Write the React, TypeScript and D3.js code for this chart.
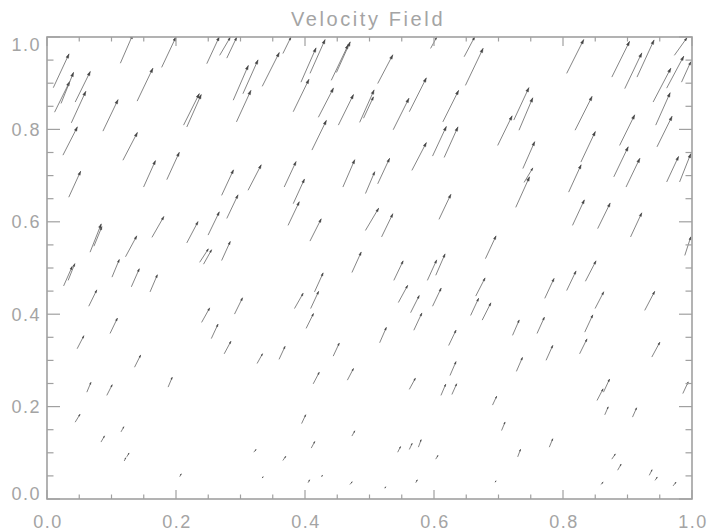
import React from "react";
import * as d3 from "d3";

// Arrow tails (data units) and velocity components (data units)
const xs = [0.010,0.012,0.022,0.044,0.038,0.025,0.087,0.140,0.114,0.178,0.118,0.150,0.186,0.034,0.212,0.217,0.067,0.073,0.122,0.163,0.217,0.237,0.243,0.248,0.268,0.279,0.289,0.304,0.294,0.334,0.366,0.382,0.394,0.408,0.421,0.441,0.449,0.452,0.411,0.271,0.312,0.368,0.382,0.374,0.459,0.279,0.250,0.408,0.271,0.473,0.485,0.491,0.513,0.562,0.537,0.614,0.649,0.647,0.598,0.616,0.566,0.608,0.699,0.724,0.732,0.738,0.727,0.740,0.680,0.494,0.513,0.494,0.519,0.538,0.590,0.603,0.806,0.876,0.896,0.915,0.973,0.940,0.961,0.984,0.944,0.946,0.819,0.888,0.828,0.879,0.898,0.809,0.961,0.981,0.815,0.854,0.905,0.989,0.835,0.026,0.033,0.101,0.131,0.160,0.065,0.098,0.047,0.136,0.062,0.093,0.188,0.044,0.084,0.115,0.120,0.124,0.206,0.240,0.255,0.275,0.291,0.326,0.360,0.384,0.402,0.415,0.409,0.444,0.413,0.466,0.395,0.410,0.473,0.321,0.366,0.334,0.405,0.426,0.470,0.545,0.564,0.598,0.569,0.665,0.657,0.675,0.722,0.516,0.623,0.625,0.728,0.562,0.611,0.628,0.691,0.705,0.544,0.562,0.576,0.603,0.730,0.572,0.524,0.695,0.772,0.806,0.850,0.927,0.760,0.834,0.774,0.826,0.938,0.853,0.863,0.865,0.908,0.986,0.779,0.876,0.885,0.934,0.943,0.859,0.971,0.595];
const ys = [0.891,0.838,0.857,0.860,0.815,0.745,0.797,0.862,0.944,0.935,0.734,0.676,0.692,0.654,0.810,0.806,0.535,0.548,0.525,0.567,0.555,0.513,0.509,0.943,0.961,0.955,0.864,0.878,0.817,0.894,0.965,0.839,0.903,0.922,0.827,0.907,0.924,0.810,0.756,0.658,0.669,0.676,0.640,0.593,0.676,0.608,0.572,0.559,0.517,0.491,0.816,0.825,0.900,0.839,0.800,0.817,0.896,0.958,0.743,0.740,0.712,0.606,0.766,0.821,0.799,0.716,0.632,0.686,0.521,0.662,0.683,0.582,0.568,0.474,0.474,0.485,0.922,0.914,0.889,0.914,0.961,0.860,0.890,0.903,0.810,0.763,0.799,0.766,0.730,0.698,0.676,0.665,0.687,0.687,0.593,0.586,0.568,0.528,0.472,0.462,0.474,0.481,0.460,0.449,0.418,0.359,0.326,0.286,0.232,0.225,0.243,0.167,0.124,0.146,0.083,0.092,0.049,0.383,0.348,0.315,0.401,0.294,0.303,0.413,0.370,0.449,0.413,0.310,0.250,0.258,0.164,0.111,0.137,0.102,0.084,0.046,0.036,0.049,0.032,0.426,0.404,0.418,0.366,0.440,0.398,0.388,0.355,0.339,0.333,0.268,0.277,0.238,0.225,0.227,0.204,0.149,0.102,0.108,0.113,0.087,0.092,0.036,0.024,0.037,0.435,0.452,0.413,0.409,0.359,0.362,0.301,0.315,0.308,0.214,0.232,0.183,0.178,0.229,0.113,0.087,0.063,0.052,0.041,0.032,0.029,0.976];
const us = [0.024,0.023,0.019,0.023,0.022,0.022,0.023,0.024,0.019,0.022,0.022,0.018,0.019,0.018,0.024,0.022,0.017,0.012,0.017,0.018,0.017,0.013,0.012,0.019,0.016,0.015,0.023,0.023,0.022,0.026,0.012,0.024,0.023,0.023,0.023,0.026,0.021,0.023,0.022,0.018,0.020,0.018,0.017,0.017,0.018,0.017,0.017,0.017,0.013,0.014,0.022,0.015,0.023,0.026,0.024,0.024,0.027,0.016,0.021,0.021,0.022,0.018,0.022,0.023,0.021,0.018,0.021,0.013,0.016,0.014,0.018,0.020,0.017,0.014,0.014,0.014,0.026,0.027,0.026,0.026,0.019,0.027,0.026,0.014,0.022,0.023,0.026,0.023,0.022,0.022,0.021,0.019,0.018,0.017,0.018,0.019,0.017,0.009,0.016,0.013,0.010,0.011,0.012,0.011,0.012,0.011,0.010,0.009,0.006,0.008,0.006,0.007,0.005,0.004,0.002,0.003,0.002,0.012,0.010,0.010,0.012,0.008,0.009,0.013,0.011,0.013,0.012,0.009,0.009,0.009,0.006,0.005,0.004,0.003,0.004,0.001,0.002,0.001,0.003,0.014,0.013,0.013,0.012,0.014,0.012,0.013,0.010,0.010,0.011,0.009,0.009,0.009,0.007,0.007,0.006,0.005,0.004,0.004,0.004,0.003,0.004,0.002,0.001,0.001,0.014,0.014,0.013,0.015,0.011,0.012,0.010,0.011,0.012,0.009,0.009,0.005,0.006,0.008,0.005,0.005,0.005,0.004,0.003,0.003,0.004,0.009];
const vs = [0.072,0.065,0.066,0.065,0.067,0.060,0.067,0.070,0.061,0.065,0.059,0.056,0.058,0.055,0.067,0.069,0.060,0.041,0.044,0.044,0.045,0.028,0.030,0.057,0.038,0.044,0.074,0.072,0.067,0.072,0.034,0.069,0.073,0.072,0.062,0.076,0.065,0.065,0.063,0.054,0.054,0.054,0.052,0.050,0.058,0.050,0.049,0.047,0.040,0.043,0.069,0.045,0.061,0.072,0.067,0.067,0.079,0.042,0.063,0.065,0.059,0.053,0.063,0.069,0.069,0.057,0.065,0.030,0.048,0.046,0.054,0.047,0.049,0.041,0.043,0.045,0.072,0.076,0.076,0.079,0.037,0.072,0.068,0.043,0.069,0.065,0.072,0.065,0.065,0.064,0.061,0.058,0.054,0.060,0.054,0.054,0.051,0.039,0.043,0.041,0.035,0.037,0.038,0.036,0.034,0.032,0.027,0.025,0.020,0.022,0.020,0.016,0.012,0.010,0.006,0.007,0.005,0.030,0.030,0.026,0.034,0.020,0.027,0.032,0.031,0.040,0.036,0.027,0.024,0.024,0.018,0.013,0.010,0.005,0.008,0.002,0.005,0.002,0.005,0.036,0.036,0.038,0.036,0.038,0.036,0.036,0.032,0.032,0.032,0.029,0.029,0.023,0.023,0.022,0.018,0.017,0.011,0.012,0.015,0.007,0.015,0.005,0.002,0.002,0.042,0.041,0.035,0.040,0.034,0.036,0.031,0.031,0.031,0.024,0.027,0.016,0.019,0.024,0.017,0.010,0.012,0.011,0.006,0.004,0.007,0.023];

const majorTicks = [0, 0.2, 0.4, 0.6, 0.8, 1.0];
const minorTicks = [0.05,0.1,0.15,0.25,0.3,0.35,0.45,0.5,0.55,0.65,0.7,0.75,0.85,0.9,0.95];
const tickLabels = ["0.0", "0.2", "0.4", "0.6", "0.8", "1.0"];
const title = "Velocity Field";

const W = 708, H = 531;
const axisColor = "#a0a0a0";
const textColor = "#a4a4a4";
const arrowColor = "#666666";
const headColor = "#444444";
const font = "'Liberation Sans', Arial, Helvetica, sans-serif";

export default function App() {
  const x = d3.scaleLinear().domain([0, 1]).range([47, 692]);
  const y = d3.scaleLinear().domain([0, 1]).range([499, 37]);
  const [x0, x1] = x.range();
  const [y0, y1] = y.range();
  const majY = 13, minY = 6.5, majX = 9, minX = 4.5;

  const arrows = xs.map((xv, i) => {
    const ax = x(xv), ay = y(ys[i]);
    const bx = x(xv + us[i]), by = y(ys[i] + vs[i]);
    const dx = bx - ax, dy = by - ay;
    const len = Math.hypot(dx, dy) || 1;
    const ux = dx / len, uy = dy / len;
    const hl = Math.min(4, 0.1 * len + 0.8);
    const hw = hl * 0.35;
    const bxh = bx - ux * hl, byh = by - uy * hl;
    const head = `M${bx},${by}L${bxh - uy * hw},${byh + ux * hw}L${bxh + uy * hw},${byh - ux * hw}Z`;
    return { ax, ay, bx, by, head };
  });

  return (
    <svg width={W} height={H} style={{ position: "absolute", left: 0, top: 0, background: "#fff" }}>
      <defs>
        <clipPath id="plotClip">
          <rect x={x0} y={y1} width={x1 - x0} height={y0 - y1} />
        </clipPath>
      </defs>
      <text x={368} y={26} textAnchor="middle" fontFamily={font} fontSize={20} letterSpacing={2.6} fill={textColor}>{title}</text>
      <g clipPath="url(#plotClip)">
        {arrows.map((a, i) => (
          <g key={i}>
            <line x1={a.ax} y1={a.ay} x2={a.bx} y2={a.by} stroke={arrowColor} strokeWidth={0.8} strokeLinecap="round" />
            <path d={a.head} fill={headColor} stroke={headColor} strokeWidth={0.4} />
          </g>
        ))}
      </g>
      <g stroke={axisColor} strokeWidth={1.2}>
        {majorTicks.map((t, i) => (
          <g key={"M" + i}>
            <line x1={x0} x2={x0 + majY} y1={y(t)} y2={y(t)} />
            <line x1={x1} x2={x1 - majY} y1={y(t)} y2={y(t)} />
            <line x1={x(t)} x2={x(t)} y1={y0} y2={y0 - majX} />
            <line x1={x(t)} x2={x(t)} y1={y1} y2={y1 + majX} />
          </g>
        ))}
        {minorTicks.map((t, i) => (
          <g key={"m" + i}>
            <line x1={x0} x2={x0 + minY} y1={y(t)} y2={y(t)} />
            <line x1={x1} x2={x1 - minY} y1={y(t)} y2={y(t)} />
            <line x1={x(t)} x2={x(t)} y1={y0} y2={y0 - minX} />
            <line x1={x(t)} x2={x(t)} y1={y1} y2={y1 + minX} />
          </g>
        ))}
        <rect x={x0} y={y1} width={x1 - x0} height={y0 - y1} fill="none" strokeWidth={1.6} />
      </g>
      <g fontFamily={font} fontSize={18} letterSpacing={1.5} fill={textColor}>
        {majorTicks.map((t, i) => (
          <text key={"yl" + i} x={41} y={Math.max(50.5, Math.min(499.5, y(t) + 6.5))} textAnchor="end">{tickLabels[i]}</text>
        ))}
        {majorTicks.map((t, i) => (
          <text key={"xl" + i} x={x(t) + 1} y={528} textAnchor="middle">{tickLabels[i]}</text>
        ))}
      </g>
    </svg>
  );
}
